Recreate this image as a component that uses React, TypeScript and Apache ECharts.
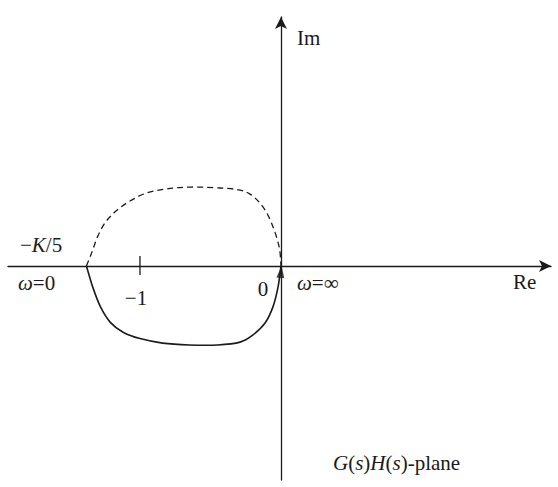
import React, { useEffect, useRef } from "react";
import * as echarts from "echarts";

// Nyquist-style locus in the G(s)H(s)-plane (Re, Im units where the tick sits at -1)
const reRange: [number, number] = [-1.936, 1.915];
const imRange: [number, number] = [-1.518, 1.766];

// Solid branch: omega from 0 to infinity (below the real axis)
const solidBranch: [number, number][] = [
  [-1.38, 0],
  [-1.335, -0.15],
  [-1.28, -0.29],
  [-1.21, -0.4],
  [-1.12, -0.47],
  [-1.0, -0.515],
  [-0.84, -0.547],
  [-0.65, -0.56],
  [-0.45, -0.56],
  [-0.29, -0.54],
  [-0.2, -0.49],
  [-0.113, -0.405],
  [-0.057, -0.29],
  [-0.021, -0.15],
  [0, 0],
];

// Dashed branch: mirror image for negative frequencies (above the real axis)
const dashedBranch: [number, number][] = [
  [-1.38, 0],
  [-1.34, 0.1],
  [-1.3, 0.21],
  [-1.245, 0.31],
  [-1.17, 0.39],
  [-1.08, 0.455],
  [-0.96, 0.515],
  [-0.81, 0.547],
  [-0.64, 0.56],
  [-0.43, 0.553],
  [-0.3, 0.54],
  [-0.22, 0.51],
  [-0.15, 0.447],
  [-0.092, 0.36],
  [-0.043, 0.24],
  [-0.01, 0.12],
  [0, 0],
];

// Tick mark crossing the real axis at -1
const minusOneTick: [number, number][] = [
  [-1, 0.071],
  [-1, -0.064],
];

const arrowPoint: [number, number][] = [[0, 0]];

const ink = "#1a1a1a";
const serif = "'Liberation Serif', 'DejaVu Serif', serif";
const fontSize = 21;

// Catmull-Rom spline through pixel points, emitted as cubic Bézier path data
function splinePath(pts: number[][]): string {
  if (pts.length < 2) return "";
  let d = `M${pts[0][0]},${pts[0][1]}`;
  for (let i = 0; i < pts.length - 1; i++) {
    const p0 = pts[Math.max(i - 1, 0)];
    const p1 = pts[i];
    const p2 = pts[i + 1];
    const p3 = pts[Math.min(i + 2, pts.length - 1)];
    const c1x = p1[0] + (p2[0] - p0[0]) / 6;
    const c1y = p1[1] + (p2[1] - p0[1]) / 6;
    const c2x = p2[0] - (p3[0] - p1[0]) / 6;
    const c2y = p2[1] - (p3[1] - p1[1]) / 6;
    d += ` C${c1x},${c1y} ${c2x},${c2y} ${p2[0]},${p2[1]}`;
  }
  return d;
}

function curveSeries(points: [number, number][], width: number, dash?: number[]) {
  return {
    type: "custom",
    data: points,
    silent: true,
    renderItem: (params: any, api: any) => {
      if (params.dataIndex !== 0) return null;
      const px = points.map((p) => api.coord(p));
      return {
        type: "path",
        shape: { pathData: splinePath(px) },
        style: {
          fill: "none",
          stroke: ink,
          lineWidth: width,
          lineDash: dash,
        },
      };
    },
  };
}

export default function App() {
  const ref = useRef<HTMLDivElement>(null);

  useEffect(() => {
    if (!ref.current) return;
    const chart = echarts.init(ref.current, undefined, { renderer: "svg" });

    const txt = (
      text: string,
      x: number,
      y: number,
      align: "left" | "center" | "right" = "left",
      rich?: Record<string, any>
    ) => ({
      type: "text",
      x,
      y,
      silent: true,
      style: {
        text,
        fill: ink,
        font: `${fontSize}px ${serif}`,
        align,
        verticalAlign: "middle",
        rich,
      },
    });

    const italic = { fontStyle: "italic", fontSize, fontFamily: serif, fill: ink, verticalAlign: "middle" };
    const upright = { fontSize, fontFamily: serif, fill: ink, verticalAlign: "middle" };

    chart.setOption({
      animation: false,
      backgroundColor: "#ffffff",
      grid: { left: 8, right: 7, top: 17, bottom: 7, containLabel: false },
      xAxis: {
        type: "value",
        min: reRange[0],
        max: reRange[1],
        axisLine: {
          show: true,
          onZero: true,
          symbol: ["none", "arrow"],
          symbolSize: [9, 12],
          lineStyle: { color: ink, width: 1.3 },
        },
        axisTick: { show: false },
        axisLabel: { show: false },
        splitLine: { show: false },
      },
      yAxis: {
        type: "value",
        min: imRange[0],
        max: imRange[1],
        axisLine: {
          show: true,
          onZero: true,
          symbol: ["none", "arrow"],
          symbolSize: [9, 12],
          lineStyle: { color: ink, width: 1.3 },
        },
        axisTick: { show: false },
        axisLabel: { show: false },
        splitLine: { show: false },
      },
      series: [
        curveSeries(solidBranch, 1.6),
        curveSeries(dashedBranch, 1.3, [6, 4]),
        {
          type: "line",
          data: minusOneTick,
          showSymbol: false,
          lineStyle: { color: ink, width: 1.3 },
          silent: true,
        },
        {
          type: "scatter",
          data: arrowPoint,
          symbol: "triangle",
          symbolSize: [8, 12],
          symbolOffset: [0, "50%"],
          symbolRotate: -6,
          itemStyle: { color: ink },
          silent: true,
        },
      ],
      graphic: [
        txt("Im", 297, 38),
        txt("Re", 513, 282),
        txt("\u22121", 136, 298, "center"),
        txt("0", 263, 289, "center"),
        txt("{i|\u03c9}{u|=0}", 18, 283, "left", { i: italic, u: upright }),
        txt("{u|\u2212}{i|K}{u|/5}", 20, 245, "left", { i: italic, u: upright }),
        txt("{i|\u03c9}{u|=\u221e}", 297, 283, "left", { i: italic, u: upright }),
        txt(
          "{i|G}{u|(}{i|s}{u|)}{i|H}{u|(}{i|s}{u|)-plane}",
          333,
          463,
          "left",
          { i: italic, u: upright }
        ),
      ],
    });

    return () => chart.dispose();
  }, []);

  return (
    <div
      ref={ref}
      style={{ position: "fixed", left: 0, top: 0, width: 558, height: 487, background: "#fff" }}
    />
  );
}
